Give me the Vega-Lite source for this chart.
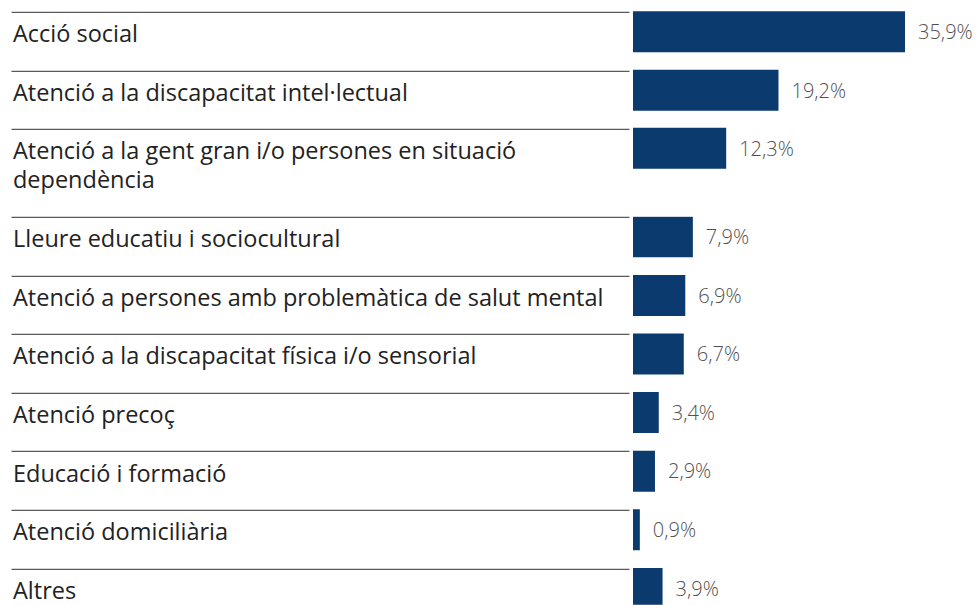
{
  "$schema": "https://vega.github.io/schema/vega-lite/v6.json",
  "padding": {"left": 10, "top": 10.8, "right": 0, "bottom": 0},
  "spacing": 0,
  "bounds": "flush",
  "config": {
    "view": {"stroke": null},
    "locale": {"number": {"decimal": ",", "thousands": ".", "grouping": [3], "currency": ["", " €"]}},
    "axisY": {
      "domain": false,
      "ticks": true,
      "tickSize": 618,
      "tickWidth": 1.3,
      "tickColor": "#5a5a5a",
      "offset": 4,
      "labelAlign": "left",
      "labelBaseline": "alphabetic",
      "labelPadding": -1.5,
      "labelFont": "Open Sans",
      "labelFontSize": 23.5,
      "labelColor": "#222222",
      "labelLimit": 700,
      "labelLineHeight": 29,
      "title": null
    }
  },
  "vconcat": [
    {
      "width": 341,
      "height": 117,
      "data": {"values": [
        {"categoria": "Acció social", "valor": 0.359},
        {"categoria": "Atenció a la discapacitat intel·lectual", "valor": 0.192}
      ]},
      "encoding": {
        "y": {"field": "categoria", "type": "nominal", "sort": null,
              "scale": {"paddingInner": 0, "paddingOuter": 0},
              "axis": {"tickOffset": -29.25, "labelOffset": 30}},
        "x": {"field": "valor", "type": "quantitative", "scale": {"domain": [0, 0.45]}, "axis": null}
      },
      "layer": [
        {"mark": {"type": "bar", "height": 41, "yOffset": -9.25, "color": "#0a3a6e"}},
        {"mark": {"type": "text", "align": "left", "baseline": "alphabetic", "dx": 13, "yOffset": -2, "font": "Open Sans", "fontWeight": 300, "fontSize": 20, "color": "#505050"},
         "encoding": {"text": {"field": "valor", "type": "quantitative", "format": ".1%"}}}
      ]
    },
    {
      "width": 341,
      "height": 88,
      "data": {"values": [
        {"categoria": "Atenció a la gent gran i/o persones en situació dependència", "valor": 0.123}
      ]},
      "encoding": {
        "y": {"field": "categoria", "type": "nominal", "sort": null,
              "scale": {"paddingInner": 0, "paddingOuter": 0},
              "axis": {"tickOffset": -44, "labelOffset": 29.5,
                       "labelExpr": "datum.label == 'Atenció a la gent gran i/o persones en situació dependència' ? ['Atenció a la gent gran i/o persones en situació', 'dependència'] : datum.label"}},
        "x": {"field": "valor", "type": "quantitative", "scale": {"domain": [0, 0.45]}, "axis": null}
      },
      "layer": [
        {"mark": {"type": "bar", "height": 41, "yOffset": -24.5, "color": "#0a3a6e"}},
        {"mark": {"type": "text", "align": "left", "baseline": "alphabetic", "dx": 13, "yOffset": -17, "font": "Open Sans", "fontWeight": 300, "fontSize": 20, "color": "#505050"},
         "encoding": {"text": {"field": "valor", "type": "quantitative", "format": ".1%"}}}
      ]
    },
    {
      "width": 341,
      "height": 388,
      "data": {"values": [
        {"categoria": "Lleure educatiu i sociocultural", "valor": 0.079},
        {"categoria": "Atenció a persones amb problemàtica de salut mental", "valor": 0.069},
        {"categoria": "Atenció a la discapacitat física i/o sensorial", "valor": 0.067},
        {"categoria": "Atenció precoç", "valor": 0.034},
        {"categoria": "Educació i formació", "valor": 0.029},
        {"categoria": "Atenció domiciliària", "valor": 0.009},
        {"categoria": "Altres", "valor": 0.039}
      ]},
      "encoding": {
        "y": {"field": "categoria", "type": "nominal", "sort": null,
              "scale": {"paddingInner": 0, "paddingOuter": 0, "range": [0, 410.2]},
              "axis": {"tickOffset": -29.3, "labelOffset": 30}},
        "x": {"field": "valor", "type": "quantitative", "scale": {"domain": [0, 0.45]}, "axis": null}
      },
      "layer": [
        {"mark": {"type": "bar", "height": 41, "yOffset": -9.3, "color": "#0a3a6e", "clip": true}},
        {"mark": {"type": "text", "align": "left", "baseline": "alphabetic", "dx": 13, "yOffset": -2, "font": "Open Sans", "fontWeight": 300, "fontSize": 20, "color": "#505050", "clip": true},
         "encoding": {"text": {"field": "valor", "type": "quantitative", "format": ".1%"}}}
      ]
    }
  ]
}
